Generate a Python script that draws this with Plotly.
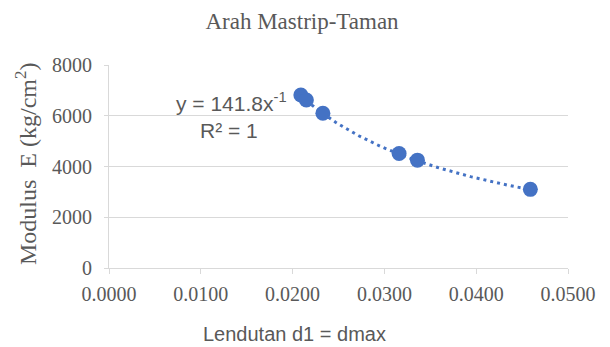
import numpy as np
import plotly.graph_objects as go

# Data
deflection = [0.0209, 0.0215, 0.0233, 0.0316, 0.0336, 0.0459]   # Lendutan d1 = dmax
modulus = [6820, 6620, 6100, 4510, 4250, 3100]                   # Modulus E (kg/cm2)

# Power trendline shown on the chart: y = 141.8 x^-1, R^2 = 1
trend_a = 141.8
trend_b = -1.0

x_ticks = [0.0, 0.01, 0.02, 0.03, 0.04, 0.05]
y_ticks = [0, 2000, 4000, 6000, 8000]

blue = "#4472C4"
grid = "#d9d9d9"
txt = "#595959"

# page has an 8px body margin; figure is sized to fit the 610x347 window
W, H = 602, 339
L, R, T, B = 101, 42, 57, 79
PW, PH = W - L - R, H - T - B

tx = np.linspace(min(deflection), max(deflection), 120)
ty = trend_a * tx ** trend_b

fig = go.Figure()
fig.add_trace(go.Scatter(x=tx, y=ty, mode="lines",
                         line=dict(color=blue, width=3, dash="3px,4px"),
                         hoverinfo="skip", showlegend=False))
fig.add_trace(go.Scatter(x=deflection, y=modulus, mode="markers",
                         marker=dict(color=blue, size=15),
                         showlegend=False))

fig.update_layout(
    width=W, height=H,
    margin=dict(l=L, r=R, t=T, b=B),
    paper_bgcolor="white", plot_bgcolor="white",
    title=dict(text="Arah Mastrip-Taman", x=294 / W, xref="container", xanchor="center",
               y=1 - 13 / H, yref="container", yanchor="middle",
               font=dict(family="Liberation Serif", size=23, color=txt)),
    xaxis=dict(range=[0, 0.05], tickvals=x_ticks, tickformat=".4f",
               showgrid=False, zeroline=False,
               showline=True, linecolor=grid, linewidth=1,
               ticks="outside", ticklen=5, tickcolor=grid,
               ticklabelstandoff=3,
               tickfont=dict(family="Liberation Serif", size=20, color=txt)),
    yaxis=dict(range=[0, 8000], tickvals=y_ticks,
               showgrid=True, gridcolor=grid, gridwidth=1, zeroline=False,
               showline=True, linecolor=grid, linewidth=1,
               ticks="outside", ticklen=4, tickcolor=grid,
               ticklabelstandoff=8,
               tickfont=dict(family="Liberation Serif", size=20, color=txt)),
    annotations=[
        dict(text="Modulus  E (kg/cm<sup>2</sup>)", textangle=-90,
             xref="paper", yref="paper", x=(18 - L) / PW, y=(H - B - 156) / PH,
             xanchor="center", yanchor="middle", showarrow=False,
             font=dict(family="Liberation Serif", size=24, color=txt)),
        dict(text="Lendutan d1 = dmax", xref="paper", yref="paper",
             x=(286 - L) / PW, y=-(326 - (H - B)) / PH,
             xanchor="center", yanchor="middle", showarrow=False,
             font=dict(family="Liberation Sans", size=20, color=txt)),
        dict(text="y = 141.8x<sup>-1</sup>", xref="x", yref="y",
             x=0.01337, y=6560, xanchor="center", yanchor="middle", showarrow=False,
             font=dict(family="Liberation Sans", size=21, color=txt)),
        dict(text="R² = 1", xref="x", yref="y",
             x=0.01310, y=5420, xanchor="center", yanchor="middle", showarrow=False,
             font=dict(family="Liberation Sans", size=21, color=txt)),
    ],
)

fig.write_html("out.html")
